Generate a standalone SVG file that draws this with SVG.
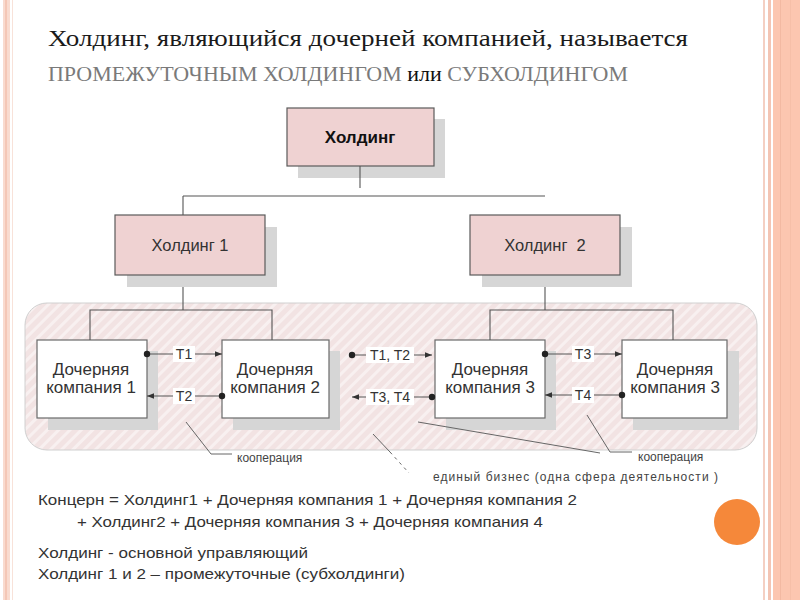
<svg xmlns="http://www.w3.org/2000/svg" width="800" height="600" viewBox="0 0 800 600">
<defs>
<style>
.hbox{fill:#efd2d2;stroke:#5a5a5a;stroke-width:1.2;}
.cbox{fill:#ffffff;stroke:#6a6a6a;stroke-width:1.2;}
.shadow{fill:#d6d6d6;}
.conn{stroke:#555;stroke-width:1.1;fill:none;}
.lbl{font-family:"Liberation Sans",Arial,sans-serif;font-size:14px;fill:#333;text-anchor:middle;}
.ctext{font-family:"Liberation Sans",Arial,sans-serif;font-size:17px;fill:#333;text-anchor:middle;}
.htext{font-family:"Liberation Sans",Arial,sans-serif;font-size:16.5px;fill:#333;text-anchor:middle;}
.note{font-family:"Liberation Sans",Arial,sans-serif;font-size:15px;fill:#333;}
.small{font-family:"Liberation Sans",Arial,sans-serif;font-size:12px;fill:#444;}
.call{stroke:#666;stroke-width:1;fill:none;}
</style>
<pattern id="hatch" width="8" height="8" patternUnits="userSpaceOnUse" patternTransform="rotate(45)">
<rect width="8" height="8" fill="#f2e3e3"/>
<rect x="0" y="0" width="3" height="8" fill="#f8f0f0"/>
</pattern>
<marker id="arr" viewBox="0 0 10 10" refX="10" refY="5" markerWidth="7" markerHeight="7" orient="auto" markerUnits="userSpaceOnUse">
<path d="M0,1 L10,5 L0,9 z" fill="#333"/>
</marker>
</defs>
<rect width="800" height="600" fill="#ffffff"/>
<!-- side decorations -->
<rect x="3" y="0" width="7" height="600" fill="#f9dbcf"/>
<rect x="5" y="0" width="2" height="600" fill="#f4c7b6"/>
<rect x="12" y="0" width="1" height="600" fill="#f8e2d9"/>
<rect x="763" y="0" width="2" height="600" fill="#f4cfc2"/>
<rect x="768" y="0" width="3" height="600" fill="#f3c4b3"/>
<rect x="773" y="0" width="27" height="600" fill="#fcc6b0"/>
<rect x="780" y="0" width="1" height="600" fill="#f3b9a2"/>
<rect x="790" y="0" width="1" height="600" fill="#f6bfa8"/>
<!-- title -->
<text x="48" y="46" font-family="'Liberation Serif','DejaVu Serif','Times New Roman',serif" font-size="24" font-weight="normal" fill="#1a1a1a" textLength="640" lengthAdjust="spacingAndGlyphs">Холдинг, являющийся дочерней компанией, называется</text>
<text x="48" y="81" font-family="'Liberation Serif','DejaVu Serif','Times New Roman',serif" font-size="20" font-weight="normal" fill="#7a7a7a" textLength="580" lengthAdjust="spacingAndGlyphs">ПРОМЕЖУТОЧНЫМ ХОЛДИНГОМ <tspan fill="#111">или</tspan> СУБХОЛДИНГОМ</text>
<!-- background area -->
<rect id="area" x="25" y="303" width="732" height="147" rx="22" fill="url(#hatch)" stroke="#d0d0d0" stroke-width="1"/>
<!-- holding boxes -->
<g id="holding">
<rect class="shadow" x="298" y="119" width="147" height="59"/>
<rect class="hbox" x="287" y="108" width="147" height="58"/>
<text x="360" y="143" font-family="'Liberation Sans',Arial,sans-serif" font-size="17" font-weight="bold" fill="#111" text-anchor="middle">Холдинг</text>
</g>
<g id="holding1">
<rect class="shadow" x="127" y="227" width="150" height="60"/>
<rect class="hbox" x="115" y="215" width="150" height="60"/>
<text class="htext" x="190" y="251">Холдинг 1</text>
</g>
<g id="holding2">
<rect class="shadow" x="482" y="227" width="150" height="60"/>
<rect class="hbox" x="470" y="215" width="150" height="60"/>
<text class="htext" x="545" y="251" xml:space="preserve">Холдинг  2</text>
</g>
<!-- child companies -->
<g id="dk1">
<rect class="shadow" x="48" y="351" width="110" height="79"/>
<rect class="cbox" x="37" y="340" width="110" height="78"/>
<text class="ctext" x="91" y="375">Дочерняя</text>
<text class="ctext" x="91" y="393">компания 1</text>
</g>
<g id="dk2">
<rect class="shadow" x="233" y="351" width="107" height="79"/>
<rect class="cbox" x="222" y="340" width="107" height="78"/>
<text class="ctext" x="275" y="375">Дочерняя</text>
<text class="ctext" x="275" y="393">компания 2</text>
</g>
<g id="dk3">
<rect class="shadow" x="446" y="351" width="110" height="79"/>
<rect class="cbox" x="435" y="340" width="110" height="78"/>
<text class="ctext" x="490" y="375">Дочерняя</text>
<text class="ctext" x="490" y="393">компания 3</text>
</g>
<g id="dk4">
<rect class="shadow" x="633" y="351" width="106" height="79"/>
<rect class="cbox" x="622" y="340" width="105" height="78"/>
<text class="ctext" x="675" y="375">Дочерняя</text>
<text class="ctext" x="675" y="393">компания 3</text>
</g>
<!-- connectors -->
<g id="connectors">
<line class="conn" x1="360" y1="166" x2="360" y2="188"/>
<line class="conn" x1="183" y1="196" x2="545" y2="196"/>
<line class="conn" x1="183" y1="196" x2="183" y2="215"/>
<line class="conn" x1="183" y1="287" x2="183" y2="310"/>
<polyline class="conn" points="90,340 90,310 272,310 272,340"/>
<line class="conn" x1="545" y1="287" x2="545" y2="310"/>
<polyline class="conn" points="490,340 490,310 673,310 673,340"/>
<line class="conn" x1="147" y1="354" x2="222" y2="354" marker-end="url(#arr)"/>
<circle cx="147" cy="354" r="3.2" fill="#222"/>
<line class="conn" x1="222" y1="396" x2="147" y2="396" marker-end="url(#arr)"/>
<circle cx="222" cy="396" r="3.2" fill="#222"/>
<line class="conn" x1="352" y1="355" x2="432" y2="355" marker-end="url(#arr)"/>
<circle cx="352" cy="355" r="3.2" fill="#222"/>
<line class="conn" x1="432" y1="397" x2="352" y2="397" marker-end="url(#arr)"/>
<circle cx="432" cy="397" r="3.2" fill="#222"/>
<line class="conn" x1="545" y1="354" x2="622" y2="354" marker-end="url(#arr)"/>
<circle cx="545" cy="354" r="3.2" fill="#222"/>
<line class="conn" x1="622" y1="395" x2="545" y2="395" marker-end="url(#arr)"/>
<circle cx="622" cy="395" r="3.2" fill="#222"/>
<rect x="173" y="346" width="22" height="16" fill="#fff"/>
<text class="lbl" x="184" y="359">T1</text>
<rect x="173" y="388" width="22" height="16" fill="#fff"/>
<text class="lbl" x="184" y="401">T2</text>
<rect x="366" y="347" width="48" height="16" fill="#fff"/>
<text class="lbl" x="390" y="360">T1, T2</text>
<rect x="366" y="389" width="48" height="16" fill="#fff"/>
<text class="lbl" x="390" y="402">T3, T4</text>
<rect x="572" y="346" width="22" height="16" fill="#fff"/>
<text class="lbl" x="583" y="359">T3</text>
<rect x="572" y="387" width="22" height="16" fill="#fff"/>
<text class="lbl" x="583" y="400">T4</text>
</g>
<!-- callouts -->
<g id="callouts">
<polyline class="call" points="186,422 211,454 232,454"/>
<text class="small" x="237" y="462">кооперация</text>
<line class="call" x1="373" y1="434" x2="390" y2="452"/>
<line class="call" x1="390" y1="452" x2="409" y2="473" stroke-dasharray="3,4"/>
<line class="call" x1="418" y1="422" x2="600" y2="453"/>
<polyline class="call" points="587,415 610,452 632,452"/>
<text class="small" x="638" y="461">кооперация</text>
<text class="small" x="433" y="481" textLength="285" lengthAdjust="spacing">единый бизнес (одна сфера деятельности )</text>
</g>
<!-- notes -->
<text class="note" x="38" y="505" textLength="539" lengthAdjust="spacingAndGlyphs">Концерн = Холдинг1 + Дочерняя компания 1 + Дочерняя компания 2</text>
<text class="note" x="77" y="527" textLength="466" lengthAdjust="spacingAndGlyphs">+ Холдинг2 + Дочерняя компания 3 + Дочерняя компания 4</text>
<text class="note" x="38" y="558" textLength="270" lengthAdjust="spacingAndGlyphs">Холдинг - основной управляющий</text>
<text class="note" x="38" y="579" textLength="367" lengthAdjust="spacingAndGlyphs">Холдинг 1 и 2 – промежуточные (субхолдинги)</text>
<circle cx="737" cy="522" r="23" fill="#f5883a"/>
</svg>
